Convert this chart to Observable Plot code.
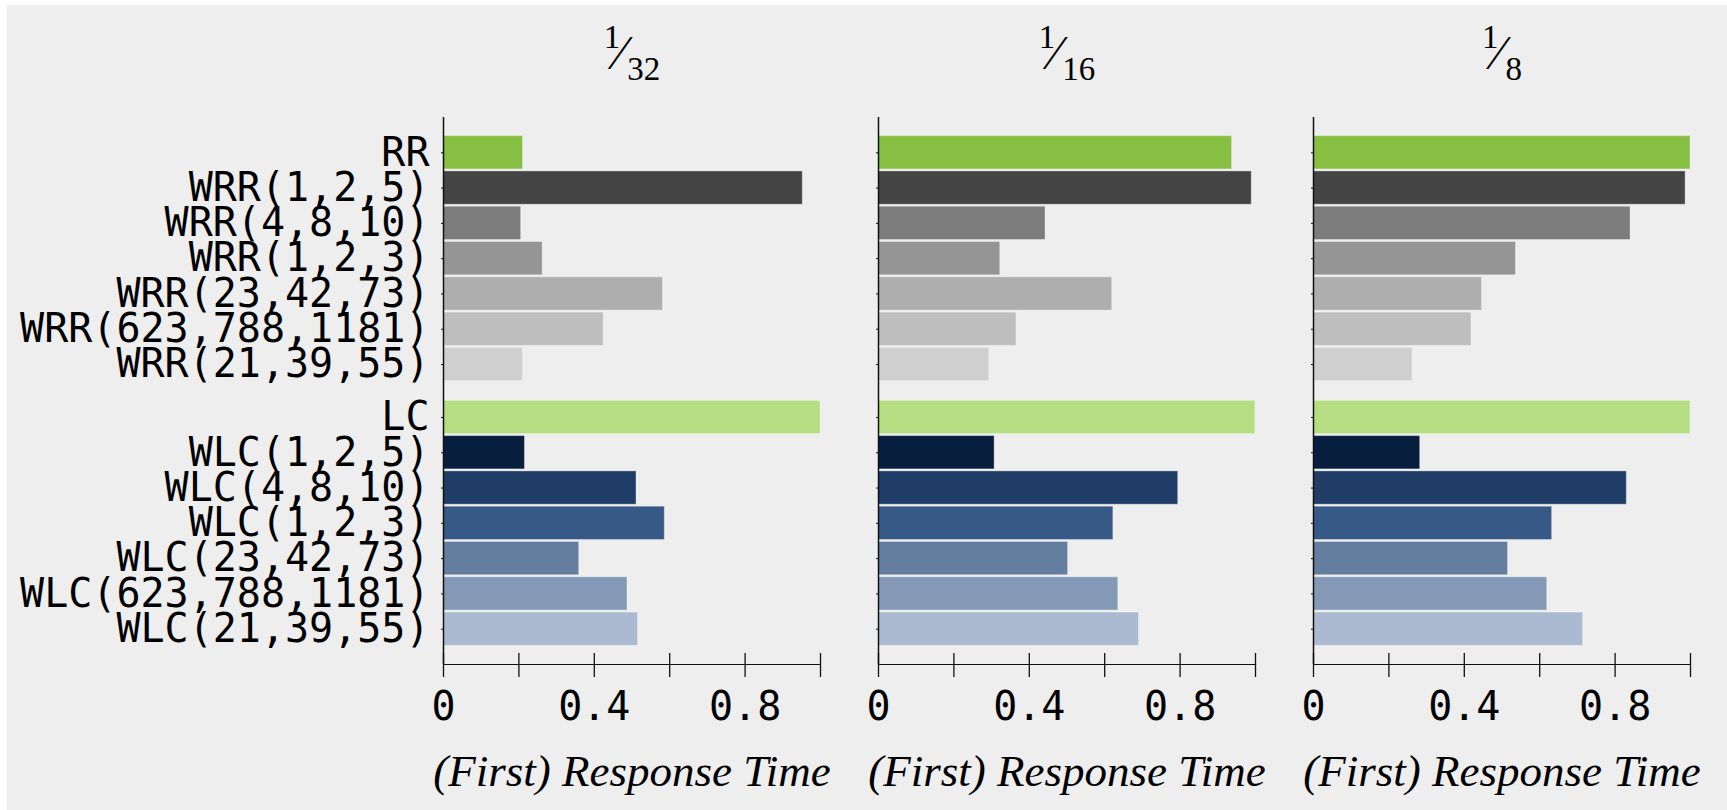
<!DOCTYPE html>
<html><head><meta charset="utf-8">
<script src="https://cdn.jsdelivr.net/npm/d3@7"></script>
<script src="https://cdn.jsdelivr.net/npm/@observablehq/plot@0.6"></script>
<style>
html,body{margin:0;padding:0;background:#fff;}
#wrap{padding:5px 0 0 7px;}
</style></head><body><div id="wrap"></div>
<script>
const facets = ["1/32", "1/16", "1/8"];
const rrPolicies = ["RR", "WRR(1,2,5)", "WRR(4,8,10)", "WRR(1,2,3)", "WRR(23,42,73)", "WRR(623,788,1181)", "WRR(21,39,55)"];
const lcPolicies = ["LC", "WLC(1,2,5)", "WLC(4,8,10)", "WLC(1,2,3)", "WLC(23,42,73)", "WLC(623,788,1181)", "WLC(21,39,55)"];
const categories = rrPolicies.concat(lcPolicies);
const colors = ["#86bf41", "#444444", "#7c7c7c", "#959595", "#aeaeae", "#bebebe", "#cfcfcf",
                "#b5de83", "#081e3f", "#1f3d66", "#365985", "#647e9f", "#8499b6", "#abbad1"];
const values32 = [0.211, 0.953, 0.206, 0.263, 0.582, 0.425, 0.211, 1.0, 0.216, 0.512, 0.587, 0.360, 0.488, 0.516];
const values16 = [0.938, 0.990, 0.443, 0.323, 0.620, 0.366, 0.294, 1.0, 0.308, 0.795, 0.623, 0.503, 0.636, 0.691];
const values8  = [1.0, 0.987, 0.841, 0.537, 0.447, 0.419, 0.263, 1.0, 0.283, 0.831, 0.633, 0.516, 0.620, 0.715];
const xTicks = [0, 0.2, 0.4, 0.6, 0.8, 1.0];
const xTickLabels = [0, 0.4, 0.8];
const xLabel = "(First) Response Time";

const groupGap = 0.5;
const pos = categories.map((c, i) => i < rrPolicies.length ? i : i + groupGap);
const series = [values32, values16, values8];
const rows = facets.flatMap((f, j) => categories.map((c, i) => ({facet: f, category: c, pos: pos[i], value: series[j][i]})));
const labelOf = new Map(pos.map((p, i) => [p, categories[i]]));

const chart = Plot.plot({
  width: 1720, height: 805,
  marginLeft: 435, marginRight: 35, marginTop: 112, marginBottom: 146,
  style: {background: "#eeeeee", color: "#000", overflow: "visible"},
  fx: {domain: facets, paddingInner: 0.133, paddingOuter: 0, axis: null, label: null},
  x: {domain: [0, 1], label: null},
  y: {domain: [-1, 14.5], reverse: true, label: null},
  color: {domain: categories, range: colors},
  marks: [
    Plot.rect(rows, {fx: "facet", x1: 0, x2: "value", y1: d => d.pos - 0.5, y2: d => d.pos + 0.5,
      insetTop: 1, insetBottom: 1, fill: "category", stroke: "white", strokeOpacity: 0.35, strokeWidth: 1}),
    Plot.ruleX([0], {stroke: "#111", strokeWidth: 1.5}),
    Plot.frame({anchor: "bottom", stroke: "#111", strokeWidth: 1.2}),
    Plot.ruleX(xTicks, {insetTop: 536, insetBottom: -13, stroke: "#111", strokeWidth: 1.3}),
    Plot.axisX(xTickLabels, {tickSize: 0, tickPadding: 27, fontSize: 40, fontFamily: "DejaVu Sans Mono", label: null, tickFormat: d => String(d)}),
    Plot.axisY(pos, {tickSize: 2, fill: "none", facetAnchor: null, label: null, stroke: "#111"}),
    Plot.axisY(pos, {tickSize: 0, tickPadding: 14, fontSize: 40, fontFamily: "DejaVu Sans Mono", tickFormat: p => labelOf.get(p), label: null}),
    Plot.text(facets, {fx: d => d, text: d => d, frameAnchor: "top", lineAnchor: "bottom", dy: -69.7, fontSize: 33, fontFamily: "Liberation Serif"}),
    Plot.text(facets, {fx: d => d, text: () => xLabel, frameAnchor: "bottom", lineAnchor: "bottom", dy: 121, fontSize: 45, fontStyle: "italic", fontFamily: "Liberation Serif"})
  ]
});

d3.select(chart).selectAll("text").each(function() {
  const t = this.textContent;
  if (facets.indexOf(t) < 0) return;
  const [num, den] = t.split("/");
  const sel = d3.select(this);
  sel.text(null);
  sel.append("tspan").text(num);
  sel.append("tspan").attr("font-size", 48).attr("dx", -4).attr("dy", 21).text("\u2044");
  sel.append("tspan").attr("dx", 3).attr("dy", 11).text(den);
});

document.getElementById("wrap").appendChild(chart);
</script>
</body></html>
